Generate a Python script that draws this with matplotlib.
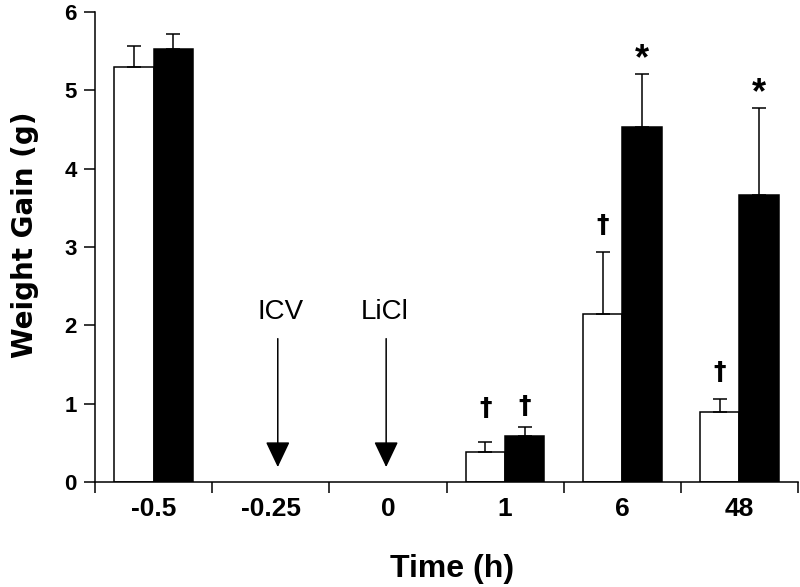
import numpy as np
import matplotlib
matplotlib.use("Agg")
from matplotlib import pyplot as plt

plt.rcParams['font.family'] = ['Liberation Sans', 'DejaVu Sans']

# data (mean and upward error, g)
groups = ['-0.5', '-0.25', '0', '1', '6', '48']
white_mean = [5.30, np.nan, np.nan, 0.38, 2.14, 0.90]
white_err = [0.26, np.nan, np.nan, 0.13, 0.79, 0.16]
black_mean = [5.53, np.nan, np.nan, 0.59, 4.53, 3.66]
black_err = [0.19, np.nan, np.nan, 0.11, 0.68, 1.11]

# significance marks: (group, series, symbol)
marks = [(3, 'white', '\u2020'), (3, 'black', '\u2020'),
         (4, 'white', '\u2020'), (4, 'black', '*'),
         (5, 'white', '\u2020'), (5, 'black', '*')]

# treatment arrows: (label, group)
events = [('ICV', 1), ('LiCl', 2)]


def main():
    fig = plt.figure(figsize=(8, 5.87), dpi=100)
    ax = fig.add_axes([95/800, 105/587, 703/800, 470/587])

    n = len(groups)
    centers = np.arange(n) + 0.5
    w = 0.335
    wm = np.array(white_mean)
    bm = np.array(black_mean)
    ok = ~np.isnan(wm)

    ax.bar(centers[ok] - w/2, wm[ok], w, color='white', edgecolor='black',
           linewidth=1.1, zorder=2)
    ax.bar(centers[ok] + w/2, bm[ok], w, color='black', edgecolor='black',
           linewidth=1.1, zorder=2)
    we = np.array(white_err)[ok]
    be = np.array(black_err)[ok]
    ax.errorbar(centers[ok] - w/2, wm[ok], yerr=[np.zeros_like(we), we],
                fmt='none', ecolor='black', elinewidth=1.1, capsize=5,
                capthick=1.1, zorder=3)
    ax.errorbar(centers[ok] + w/2, bm[ok], yerr=[np.zeros_like(be), be],
                fmt='none', ecolor='black', elinewidth=1.1, capsize=5,
                capthick=1.1, zorder=3)

    # significance symbols above the error caps
    offs = {(3, 'white'): 19.5, (3, 'black'): 10}
    for g, s, sym in marks:
        if s == 'white':
            x, top = centers[g] - w/2, white_mean[g] + white_err[g]
        else:
            x, top = centers[g] + w/2, black_mean[g] + black_err[g]
        if sym == '*':
            ax.annotate(sym, (x, top), xytext=(0, 3.5), textcoords='offset points',
                        ha='center', va='baseline', fontsize=26, fontweight='bold')
        else:
            ax.annotate(sym, (x, top), xytext=(0, offs.get((g, s), 14.5)),
                        textcoords='offset points', ha='center', va='baseline',
                        fontsize=18, fontweight='bold', family='DejaVu Sans')

    # arrows for ICV injection and LiCl
    for (lab, g), dx, tx in zip(events, [0.06, -0.015], [0.08, -0.03]):
        ax.annotate('', xy=(centers[g] + dx, 0.19), xytext=(centers[g] + dx, 1.83),
                    arrowprops=dict(arrowstyle='-|>,head_length=0.8,head_width=0.38',
                                    mutation_scale=20, lw=1.1, color='black',
                                    shrinkA=0, shrinkB=0))
        ax.text(centers[g] + tx, 2.08, lab, ha='center', va='baseline', fontsize=20)

    ax.set_xlim(0, n)
    ax.set_ylim(0, 6)
    for sp in ['top', 'right']:
        ax.spines[sp].set_visible(False)
    for sp in ['left', 'bottom']:
        ax.spines[sp].set_linewidth(1.1)

    ax.set_xticks(np.arange(n + 1))
    ax.set_xticklabels([])
    ax.set_xticks(centers, minor=True)
    ax.set_xticklabels(groups, minor=True, fontsize=19, fontweight='bold')
    ax.tick_params(axis='x', which='major', direction='out', length=8, width=1.1)
    ax.tick_params(axis='x', which='minor', length=0, pad=11)

    ax.set_yticks(range(7))
    ax.set_yticklabels([str(i) for i in range(7)], fontsize=16, fontweight='bold')
    ax.tick_params(axis='y', direction='out', length=8, width=1.1, pad=5)

    ax.set_xlabel('Time (h)', fontsize=23, fontweight='bold')
    ax.xaxis.set_label_coords(0.508, -0.202)
    ax.xaxis.label.set_va('baseline')
    ax.set_ylabel('Weight Gain (g)', fontsize=20, fontweight='bold',
                  family='DejaVu Sans')
    ax.yaxis.set_label_coords(-0.088, 0.5266)
    ax.yaxis.label.set_va('baseline')

    fig.savefig('out.png', dpi=100)


if __name__ == "__main__":
    main()
